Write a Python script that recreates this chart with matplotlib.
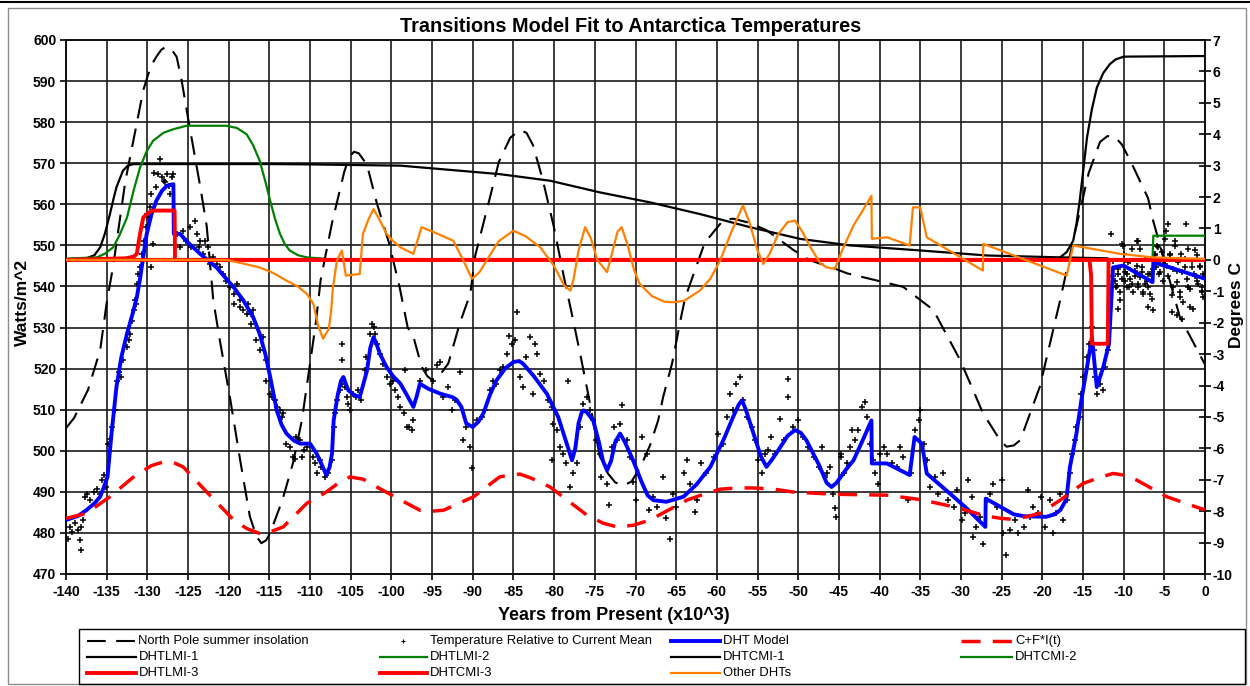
import matplotlib
matplotlib.use('Agg')
import matplotlib.pyplot as plt
from matplotlib.lines import Line2D
from matplotlib.patches import Rectangle

plt.rcParams['font.family'] = ['Liberation Sans', 'DejaVu Sans']
plt.rcParams['axes.unicode_minus'] = False

# ---------------- data ----------------
# North Pole summer insolation (W/m^2, left axis)
ins_t = [-140, -139, -137.3, -135.8, -135.0, -134.2, -132.7, -131.7, -130.5, -129.6, -128.9, -128.3,
         -127.7, -127.0, -126.4, -125.8, -125.0, -123.5, -122.7, -121.9, -121.1, -119.8, -118.6,
         -117.4, -116.6, -116.0, -115.4, -114.9, -113.4, -112.1, -111.0, -109.3, -108.7, -107.3,
         -105.8, -105.2, -104.6, -104.0, -103.0, -101.8, -100.3, -99.0, -98.0, -97.3, -96.3,
         -95.6, -95.0, -94.2, -93.0, -91.6, -90.3, -89.7, -88.1, -86.8, -85.4, -84.2, -83.4,
         -82.6, -81.4, -80.0, -78.8, -77.9, -76.8, -75.7, -74.4, -73.4, -72.5, -71.5, -70.5,
         -69.4, -68.2, -67.2, -66.6, -65.5, -64.4, -63.9, -61.5, -59.2, -58.0, -56.0, -53.9,
         -50.6, -48.6, -45.7, -44.0, -37.1, -33.4, -30.1, -27.3, -25.2, -24.4, -23.5, -22.7,
         -20.3, -17.8, -16.0, -14.3, -12.9, -12.0, -11.1, -10.2, -9.1, -7.0, -6.4, -3.1, 0]
ins_w = [505.5, 508, 514.8, 524.5, 536, 545, 565.7, 575.7, 587.8, 593.5, 595.9, 597.6,
         598.4, 597.6, 595.9, 590.3, 581, 564.3, 554.6, 536.7, 527, 512.4, 497.8,
         484, 479.2, 477.5, 478.2, 480, 488, 497, 507.5, 531, 541.6, 555.5,
         567.9, 571.5, 572.8, 572.4, 569.6, 560.3, 550.6, 539.9, 530, 527.8, 520.5,
         518.2, 517.2, 518, 521.3, 531, 538.3, 547.5, 560, 570.3, 576.2, 578.1, 577.4,
         574.4, 566, 554.2, 542.3, 534, 523.6, 512.6, 498.7, 494.5, 492.3, 491.5, 492.5,
         496, 501.4, 507.5, 513.1, 521.3, 532.5, 537.2, 550.6, 556.2, 556.5, 555.5, 553.7,
         548.9, 546.4, 544.5, 543.2, 539.9, 534.3, 522.1, 509.2, 502.6, 501, 501.3, 502.6,
         515.6, 536.7, 553, 567.6, 575.2, 576.6, 576.5, 574.5, 570.3, 561.5, 556.2, 532.6, 521]

# Temperature relative to current mean (deg C, right axis)
temp_t = [-139.7, -139.5, -139.3, -138.9, -138.5, -138.3, -138.2, -138.1, -137.9, -137.7,
          -137.4, -137.1, -136.6, -136.2, -135.8, -135.6, -135.3, -135.1, -134.8, -134.6,
          -134.4, -134.0, -133.7, -133.5, -133.2, -133.0, -132.5, -132.3, -132.1, -131.9,
          -131.7, -131.4, -131.5, -131.3, -131.1, -130.9, -130.6, -130.4, -130.2, -129.9,
          -129.7, -129.5, -129.2, -128.9, -128.7, -128.4, -128.2, -128.0, -127.8, -127.6,
          -127.4, -127.2, -127.0, -126.8, -129.5, -129.3, -130.1, -126.4, -126.0, -125.6,
          -125.2, -124.8, -124.6, -124.1, -123.9, -123.7, -123.5, -123.1, -122.9, -122.5,
          -122.3, -121.9, -121.5, -121.1, -120.7, -120.3, -119.8, -119.4, -119.0, -118.6,
          -118.2, -117.6, -117.2, -119.4, -118.6, -117.8, -117.0, -117.2, -116.6, -116.2,
          -115.8, -115.4, -115.4, -114.9, -114.7, -114.3, -114.1, -113.7, -113.5, -113.3,
          -112.9, -112.5, -112.1, -111.9, -111.7, -111.2, -111.0, -110.8, -110.4, -109.6,
          -109.4, -109.2, -108.8, -108.6, -108.2, -107.8, -107.3, -107.1, -106.9, -106.7,
          -106.3, -106.1, -106.1, -106.1, -105.7, -105.5, -105.3, -105.1, -104.7, -104.3,
          -104.1, -103.7, -103.3, -103.1, -102.6, -102.4, -102.2, -102.0, -101.8, -101.4,
          -101.0, -100.6, -100.2, -99.8, -99.6, -99.2, -98.9, -98.5, -98.3, -97.9,
          -97.5, -97.3, -98.1, -96.5, -95.7, -94.9, -94.4, -94.0, -93.6, -93.0,
          -92.6, -92.2, -91.6, -91.2, -90.8, -90.4, -90.1, -89.5, -88.9, -88.5,
          -87.9, -87.5, -87.1, -86.7, -86.3, -85.8, -85.6, -85.2, -84.8, -84.6,
          -84.2, -83.8, -83.4, -83.0, -82.6, -82.4, -82.1, -81.7, -81.3, -80.7,
          -80.3, -80.1, -80.3, -79.7, -79.3, -78.9, -78.5, -78.3, -78.1, -77.7,
          -77.2, -76.8, -76.4, -76.0, -75.6, -75.2, -74.8, -74.4, -74.2, -73.5,
          -73.3, -72.9, -72.7, -72.3, -71.9, -71.7, -71.1, -70.7, -70.3, -69.9,
          -69.2, -68.6, -68.4, -67.8, -67.4, -66.6, -66.2, -65.8, -65.4, -65.0,
          -64.1, -63.7, -63.3, -62.7, -62.5, -61.9, -61.3, -60.4, -59.8, -59.2,
          -58.8, -58.4, -58.0, -57.6, -57.2, -56.8, -56.3, -55.7, -55.3, -54.9,
          -54.5, -54.1, -53.7, -53.3, -52.8, -52.2, -51.8, -51.2, -51.2, -50.6,
          -50.0, -49.4, -48.8, -48.1, -47.5, -47.1, -46.7, -46.1, -45.7, -45.5,
          -45.3, -44.7, -46.5, -44.8, -44.4, -44.0, -43.6, -43.4, -43.0, -42.6,
          -42.2, -41.8, -41.6, -41.2, -40.8, -40.6, -40.2, -40.0, -39.5, -39.1,
          -38.5, -37.9, -37.5, -37.1, -36.5, -36.1, -35.7, -35.2, -35.0, -34.6,
          -34.2, -33.8, -33.2, -32.8, -32.2, -31.6, -30.9, -30.5, -29.9, -29.5,
          -29.1, -28.7, -28.5, -28.1, -27.7, -27.3, -26.8, -26.4, -26.0, -25.6,
          -25.0, -24.8, -24.4, -24.0, -23.4, -23.0, -22.3, -21.7, -21.5, -21.1,
          -20.5, -20.1, -19.7, -19.1, -18.7, -18.3, -17.8, -17.4, -17.0, -16.6,
          -16.4, -16.0, -15.8, -15.4, -15.2, -15.0, -14.5, -14.3, -13.9, -13.7,
          -13.5, -13.3, -12.9, -12.5, -12.3, -11.9, -11.5, -11.3, -11.1, -10.9,
          -10.7, -10.5, -10.2, -10.0, -9.8, -9.6, -9.4, -9.2, -9.0, -8.6,
          -8.4, -8.2, -8.0, -7.8, -7.6, -7.4, -7.0, -6.8, -6.4, -6.2,
          -6.0, -5.8, -5.6, -5.2, -4.8, -4.5, -4.3, -3.9, -3.7, -3.5,
          -3.1, -2.9, -2.5, -2.3, -2.1, -1.9, -1.6, -1.4, -1.2, -1.0,
          -0.6, -0.4, -0.2, -0.2,
          -11.28, -10.87, -10.66, -10.46, -10.25, -10.05, -9.84, -9.64, -9.43, -9.23,
          -9.02, -8.82, -8.61, -8.41, -8.20, -8.20, -8.00, -7.79, -7.59, -7.38,
          -7.18, -6.97, -6.77, -6.56, -6.36, -6.15, -5.95, -5.75, -5.54, -5.34,
          -5.13, -4.93, -4.72, -4.52, -4.31, -4.11, -3.90, -3.70, -3.49, -3.29,
          -3.08, -2.88, -2.67, -2.47, -2.26, -2.06, -1.85, -1.65, -1.44, -1.24,
          -1.03, -0.83, -0.62, -0.42, -0.21, -10.66, -6.97, -4.11, -3.49, -2.88]
temp_c = [-8.87, -8.50, -8.66, -8.39, -8.60, -8.92, -9.24, -8.50, -8.28, -7.54,
          -7.44, -7.65, -7.38, -7.28, -7.44, -7.01, -6.85, -7.23, -5.85, -5.69,
          -5.32, -4.79, -3.84, -3.57, -3.73, -3.20, -2.78, -2.56, -2.35, -1.93,
          -1.61, -1.40, -1.29, -0.76, -0.45, -0.24, 0.19, 0.61, 1.04, 1.35,
          1.67, 2.10, 2.78, 2.31, 2.73, 3.21, 2.63, 2.52, 2.47, 2.73,
          2.36, 2.10, 2.63, 2.73, -0.24, 0.51, 1.46, 0.83, 0.40, 0.93,
          0.61, 1.04, 0.40, 1.25, 0.83, 0.40, 0.61, 0.19, 0.61, 0.40,
          -0.13, 0.08, -0.13, -0.24, -0.45, -0.66, -0.87, -1.08, -0.76, -1.29,
          -1.61, -1.40, -1.72, -1.40, -1.51, -1.72, -1.61, -2.03, -2.56, -2.88,
          -2.46, -3.20, -3.84, -4.26, -4.37, -4.47, -4.68, -4.79, -5.00, -4.89,
          -5.85, -5.96, -6.27, -6.33, -5.64, -5.74, -6.27, -6.06, -5.96, -6.27,
          -6.48, -6.80, -6.38, -6.59, -6.91, -6.80, -6.38, -5.32, -4.89, -4.47,
          -4.15, -3.94, -3.20, -2.67, -4.05, -4.37, -4.58, -4.79, -4.26, -4.37,
          -4.15, -4.47, -3.52, -3.09, -2.35, -2.03, -2.14, -2.35, -2.67, -2.99,
          -3.31, -3.73, -3.94, -3.84, -4.15, -4.37, -4.68, -4.89, -3.52, -5.32,
          -5.42, -5.11, -5.32, -3.84, -3.52, -3.84, -3.36, -3.25, -4.37, -4.05,
          -4.79, -4.47, -3.57, -5.74, -5.32, -5.96, -6.64, -5.11, -5.00, -4.79,
          -4.15, -3.84, -3.94, -3.52, -3.41, -2.99, -2.41, -2.67, -2.56, -1.67,
          -3.73, -4.05, -3.09, -2.46, -4.26, -2.67, -2.99, -3.62, -3.84, -4.47,
          -4.68, -5.21, -6.38, -5.42, -5.96, -6.17, -6.48, -3.84, -7.23, -6.80,
          -6.48, -5.32, -4.58, -4.37, -4.79, -5.11, -5.74, -6.17, -6.91, -7.12,
          -7.81, -5.96, -5.32, -5.74, -5.21, -4.63, -5.74, -6.27, -7.07, -7.65,
          -5.64, -6.17, -7.97, -7.54, -7.86, -6.91, -8.23, -8.87, -7.44, -7.86,
          -6.80, -6.38, -7.12, -8.02, -7.65, -6.48, -6.80, -6.27, -5.53, -5.85,
          -5.00, -4.26, -4.79, -3.94, -3.73, -4.47, -5.00, -5.32, -5.74, -6.38,
          -6.80, -6.17, -6.06, -5.64, -6.17, -5.05, -5.74, -3.78, -4.37, -5.32,
          -5.11, -5.64, -5.96, -6.27, -6.59, -5.96, -6.91, -6.59, -7.44, -7.91,
          -8.18, -6.17, -6.80, -6.27, -6.80, -6.48, -5.96, -5.42, -5.74, -5.42,
          -4.68, -4.52, -5.00, -5.85, -6.38, -6.80, -7.12, -6.17, -5.96, -6.17,
          -6.48, -6.59, -5.96, -6.27, -7.65, -6.80, -5.42, -5.11, -4.79, -5.85,
          -6.38, -7.23, -6.91, -7.44, -6.80, -7.65, -7.86, -7.33, -8.28, -8.07,
          -7.01, -7.54, -8.82, -8.50, -8.18, -9.03, -7.65, -7.44, -7.12, -7.86,
          -7.01, -8.71, -9.40, -8.60, -8.28, -8.71, -8.50, -7.33, -8.18, -7.86,
          -8.07, -7.54, -8.50, -7.65, -8.71, -8.07, -7.44, -8.28, -7.65, -6.80,
          -6.17, -5.74, -5.32, -5.00, -4.26, -3.73, -3.09, -2.67, -2.14, -2.88,
          -3.73, -4.26, -3.94, -4.15, -3.41, -2.88, 0.83, -0.02, -0.66, -0.87,
          -0.45, -1.29, 0.51, 0.19, -0.66, -0.45, -0.87, -0.02, -0.76, -0.34,
          0.61, -0.87, -0.55, -0.24, -1.08, -0.76, -0.45, -1.08, -1.61, 0.19,
          -0.24, 0.40, -0.45, -0.02, 0.93, 1.14, 0.19, -0.87, 0.61, -0.34,
          -1.19, 0.19, -0.24, 1.14, -0.87, -1.51, -0.02, -0.45, 0.30, -0.66,
          -0.24, -0.87, -0.45, -1.19,
          -0.50, -0.82, -0.29, -1.03, -0.60, 0.45, -0.39, -0.87, -0.08, -0.60,
          0.35, -1.03, -0.50, -0.18, 0.61, -0.76, 0.35, -0.39, -1.03, 0.03,
          -0.66, -0.87, -0.45, -1.24, -0.29, 0.14, 0.45, -0.08, -0.39, 0.24,
          -0.66, 0.67, -0.18, -0.50, 0.14, -1.13, -0.29, 0.45, -0.71, -0.08,
          -1.03, -0.39, -1.35, 0.03, -0.60, 0.35, -0.92, -0.23, -1.56, -0.50,
          0.14, -0.76, -0.18, -1.03, -0.55, -1.56, -1.50, -1.66, -1.77, -1.88]

# DHT Model (deg C)
dht_t = [-140, -138.5, -137.5, -136.5, -135.8, -135.3, -134.9, -134.4, -133.8, -133.2,
         -132.5, -131.8, -131.3, -130.9, -130.5, -130.1, -129.5, -128.9, -128.2, -127.6,
         -126.8, -126.75, -126.0, -125.0, -123.5, -121.5, -119.4, -118.2, -117.0, -116.2,
         -115.5, -114.9, -114.1, -113.5, -112.9, -112.0, -111.2, -110.0, -109.2, -108.6,
         -108.0, -107.6, -107.3, -107.1, -106.6, -106.2, -105.9, -105.6, -105.3, -104.6,
         -103.9, -103.5, -103.0, -102.6, -102.2, -101.8, -101.4, -100.6, -99.8, -98.9,
         -98.0, -97.3, -96.9, -96.5, -95.5, -94.0, -92.5, -92.0, -91.4, -90.8,
         -90.0, -89.3, -88.7, -87.9, -87.1, -86.0, -85.0, -84.3, -83.8, -82.5,
         -80.9, -79.5, -78.4, -77.8, -77.4, -77.0, -76.6, -76.4, -76.0, -75.2,
         -74.5, -74.0, -73.5, -73.0, -72.5, -71.9, -71.3, -70.3, -69.2, -68.5,
         -67.8, -66.2, -64.1, -62.5, -60.8, -59.2, -58.0, -57.3, -56.9, -56.4,
         -55.5, -54.6, -53.9, -53.2, -52.2, -51.3, -50.4, -49.7, -49.0, -47.5,
         -46.5, -45.9, -45.3, -44.2, -43.2, -42.0, -41.0, -40.95, -39.1, -36.3,
         -35.7, -34.8, -34.2, -30.9, -29.3, -27.0, -26.95, -24.8, -23.5, -22.3,
         -19.5, -18.5, -17.8, -17.2, -17.0, -16.6, -15.8, -15.2, -14.5, -13.9,
         -13.3, -12.5, -11.8, -11.3, -10.0, -6.45, -6.35, -4.3, 0]
dht_c = [-8.28, -8.15, -7.97, -7.75, -7.54, -7.20, -6.91, -5.52, -4.05, -3.10,
         -2.35, -1.70, -1.20, -0.60, 0.10, 0.80, 1.45, 1.88, 2.20, 2.36,
         2.41, 0.83, 0.83, 0.55, 0.19, -0.24, -0.87, -1.29, -1.82, -2.35,
         -3.00, -3.73, -4.79, -5.25, -5.53, -5.75, -5.85, -5.85, -6.16, -6.50,
         -6.85, -6.60, -6.16, -5.11, -4.30, -3.85, -3.73, -3.95, -4.15, -4.30,
         -4.37, -4.00, -3.52, -2.80, -2.46, -2.70, -3.00, -3.41, -3.70, -3.94,
         -4.35, -4.68, -4.35, -3.94, -4.10, -4.26, -4.37, -4.45, -4.68, -5.21,
         -5.32, -5.15, -4.89, -4.30, -3.84, -3.45, -3.25, -3.22, -3.31, -3.70,
         -4.26, -5.00, -5.90, -6.38, -6.00, -5.20, -4.85, -4.79, -4.85, -5.11,
         -5.80, -6.40, -6.70, -6.40, -5.80, -5.53, -5.80, -6.38, -7.10, -7.50,
         -7.65, -7.70, -7.54, -7.15, -6.59, -5.74, -5.00, -4.60, -4.47, -4.80,
         -5.53, -6.25, -6.59, -6.35, -5.96, -5.60, -5.42, -5.50, -5.74, -6.50,
         -7.10, -7.23, -7.10, -6.70, -6.38, -5.70, -5.11, -6.48, -6.48, -6.85,
         -5.64, -5.85, -6.80, -7.54, -7.91, -8.50, -7.60, -7.91, -8.10, -8.16,
         -8.18, -8.10, -7.97, -7.70, -7.54, -6.59, -5.53, -4.47, -3.41, -2.46,
         -4.05, -3.41, -2.67, -0.24, -0.18, -0.71, -0.08, -0.24, -0.60]

# C+F*I(t) (deg C)
cfi_t = [-140, -137.5, -134.6, -131.7, -129.5, -128.0, -126.8, -125.6, -122.7, -119.4,
         -117.8, -116.2, -114.8, -113.3, -110.4, -108.0, -106.5, -105.1, -103.5, -101.8,
         -98.1, -96.5, -95.0, -93.6, -89.9, -86.7, -85.5, -84.2, -82.8, -80.5,
         -76.0, -74.0, -72.3, -70.3, -68.2, -63.7, -61.5, -59.6, -57.5, -55.5,
         -53.0, -50.6, -45.7, -39.1, -35.0, -30.9, -26.8, -25.0, -23.6, -22.0,
         -20.3, -17.8, -15.0, -13.0, -11.3, -10.0, -8.4, -4.7, -0.6, 0]
cfi_c = [-8.23, -8.07, -7.54, -6.91, -6.55, -6.43, -6.45, -6.59, -7.39, -8.28,
         -8.55, -8.71, -8.65, -8.50, -7.75, -7.39, -7.10, -6.91, -6.98, -7.23,
         -7.75, -7.97, -8.00, -7.97, -7.54, -6.91, -6.85, -6.82, -6.95, -7.23,
         -8.12, -8.38, -8.50, -8.45, -8.28, -7.65, -7.45, -7.30, -7.26, -7.26,
         -7.30, -7.39, -7.46, -7.49, -7.63, -7.86, -8.16, -8.23, -8.26, -8.18,
         -8.07, -7.65, -7.12, -6.93, -6.80, -6.85, -7.01, -7.54, -7.91, -7.95]

# DHTLMI-1 (deg C)
lmi1_t = [-140, -137.5, -136.5, -135.8, -135.2, -134.6, -134.2, -133.8, -133.0, -132.4,
          -131.7, -115.0, -110.0, -104.6, -98.9, -86.7, -80.5, -74.4, -68.2, -62.1,
          -55.9, -49.8, -43.6, -35.0, -26.8, -17.8, -12.0]
lmi1_c = [0.02, 0.05, 0.15, 0.40, 0.85, 1.46, 1.90, 2.31, 2.84, 3.00,
          3.05, 3.05, 3.04, 3.02, 3.00, 2.73, 2.52, 2.15, 1.83, 1.46,
          1.04, 0.67, 0.46, 0.30, 0.14, 0.08, 0.05]

# DHTLMI-2 (deg C)
lmi2_t = [-140, -136.2, -135.2, -134.2, -133.4, -132.5, -131.7, -130.9, -130.1, -129.3,
          -128.0, -126.8, -125.2, -120.3, -119.0, -117.8, -117.0, -116.2, -115.5, -114.9,
          -114.3, -113.7, -113.1, -112.5, -111.5, -110.4, -108.4]
lmi2_c = [0.04, 0.08, 0.20, 0.40, 0.80, 1.35, 2.20, 2.94, 3.45, 3.79,
          4.05, 4.16, 4.27, 4.27, 4.20, 4.00, 3.65, 3.16, 2.50, 1.88,
          1.30, 0.83, 0.50, 0.30, 0.15, 0.08, 0.04]

# DHTCMI-1 (deg C)
cmi1_t = [-140, -18.5, -17.8, -17.0, -16.2, -15.8, -15.4, -14.9, -14.5, -13.9,
          -13.3, -12.5, -11.7, -11.0, -10.0, 0]
cmi1_c = [0.0, 0.0, 0.08, 0.25, 0.61, 1.15, 1.88, 3.00, 3.90, 4.80,
          5.48, 5.95, 6.23, 6.38, 6.47, 6.49]

# DHTCMI-2 (deg C)
cmi2_t = [-140, -6.45, -6.35, 0]
cmi2_c = [0.0, 0.0, 0.77, 0.77]

# DHTLMI-3 (deg C)
lmi3_t = [-140, -132.7, -131.7, -131.3, -130.9, -130.5, -129.9, -129.3, -126.65, -126.6, 0]
lmi3_c = [0.0, 0.05, 0.10, 0.19, 0.83, 1.35, 1.50, 1.57, 1.57, 0.0, 0.0]

# DHTCMI-3 (deg C)
cmi3_t = [-140, -14.2, -14.0, -13.9, -11.95, -11.85, 0]
cmi3_c = [0.0, 0.0, -0.5, -2.67, -2.67, 0.0, 0.0]

# Other DHTs (deg C)
oth_t = [-140, -120.3, -118.5, -116.2, -114.5, -112.9, -111.5, -110.4, -109.6, -109.0,
         -108.4, -107.7, -107.4, -107.2, -106.7, -106.1, -105.6, -103.9, -103.5, -102.8,
         -102.2, -101.5, -100.6, -99.8, -98.9, -97.3, -96.3, -94.5, -92.4, -91.2,
         -90.1, -89.2, -88.3, -86.8, -85.0, -83.5, -81.7, -80.0, -78.8, -78.0,
         -77.6, -77.0, -76.2, -75.5, -74.7, -73.5, -72.8, -72.2, -71.7, -71.0,
         -70.2, -69.5, -68.0, -66.5, -65.4, -64.0, -62.1, -60.8, -59.6, -58.2,
         -56.8, -56.0, -55.0, -54.3, -53.5, -52.5, -51.3, -50.4, -49.5, -48.5,
         -47.3, -46.5, -45.5, -44.6, -43.2, -42.0, -41.0, -40.95, -39.1, -36.3,
         -35.9, -35.0, -34.2, -27.3, -27.25, -17.0, -16.2, -10.4, -6.4, 0]
oth_c = [0.0, 0.0, -0.10, -0.24, -0.42, -0.66, -0.85, -1.08, -1.40, -2.10,
         -2.51, -2.20, -1.60, -0.90, -0.02, 0.30, -0.50, -0.45, 0.83, 1.30,
         1.62, 1.30, 0.83, 0.60, 0.40, 0.19, 1.04, 0.85, 0.61, 0.00,
         -0.60, -0.40, -0.02, 0.60, 0.93, 0.75, 0.40, -0.20, -0.80, -0.98,
         -0.60, 0.30, 1.04, 0.70, 0.00, -0.39, 0.30, 0.90, 1.04, 0.50,
         -0.30, -0.76, -1.15, -1.33, -1.35, -1.30, -0.98, -0.60, -0.02, 0.90,
         1.73, 1.20, 0.30, -0.13, 0.20, 0.80, 1.20, 1.25, 0.90, 0.40,
         -0.10, -0.24, -0.29, 0.30, 1.10, 1.60, 2.04, 0.67, 0.72, 0.46,
         1.67, 1.67, 0.72, -0.34, 0.51, -0.50, 0.46, 0.19, 0.08, 0.03]

x_ticks = list(range(-140, 1, 5))
left_ticks = list(range(470, 601, 10))
right_ticks = list(range(-10, 8))

# ---------------- figure ----------------
W, H = 1250, 686
fig = plt.figure(figsize=(W / 100, H / 100), dpi=100)


def fx(x):
    return x / W


def fy(y):
    return 1 - y / H


ax = fig.add_axes([fx(66), fy(574), (1205 - 66) / W, (574 - 40) / H])
ax.set_xlim(-140, 0)
ax.set_ylim(470, 600)
ax.set_xticks(x_ticks)
ax.set_yticks(left_ticks)
ax.grid(True, color='#1a1a1a', lw=1.2)
ax.set_axisbelow(True)
for s in ax.spines.values():
    s.set_linewidth(1.3)
    s.set_color('#111111')
ax.tick_params(axis='x', direction='out', length=4, width=1.2, pad=4, labelsize=10)
ax.tick_params(axis='y', direction='out', length=4, width=1.2, pad=3, labelsize=10)
for lab in ax.get_xticklabels() + ax.get_yticklabels():
    lab.set_fontweight('bold')

INS_STYLE = dict(color='black', lw=1.5, dashes=(9, 5))
ax.plot(ins_t, ins_w, zorder=2, **INS_STYLE)

ax2 = ax.twinx()
ax2.set_ylim(-10, 7)
ax2.set_yticks(right_ticks)
ax2.tick_params(axis='y', direction='inout', length=8, width=1.2, pad=1.5, labelsize=10)
for lab in ax2.get_yticklabels():
    lab.set_fontweight('bold')
for s in ax2.spines.values():
    s.set_linewidth(1.3)
    s.set_color('#111111')

ax2.plot(temp_t, temp_c, linestyle='none', marker='+', ms=4, mew=1.1, color='black', zorder=2)
BLUE = dict(color='#0000ff', lw=2.8, solid_joinstyle='round')
ax2.plot(dht_t, dht_c, zorder=3, **BLUE)
CFI = dict(color='#ff0000', lw=2.5, dashes=(5.5, 3.5))
ax2.plot(cfi_t, cfi_c, zorder=4, **CFI)
BLK = dict(color='black', lw=1.6)
GRN = dict(color='#008000', lw=1.6)
RED = dict(color='#ff0000', lw=2.8)
ORG = dict(color='#ff8000', lw=1.6)
ax2.plot(lmi1_t, lmi1_c, zorder=5, **BLK)
ax2.plot(lmi2_t, lmi2_c, zorder=5, **GRN)
ax2.plot(cmi1_t, cmi1_c, zorder=5, **BLK)
ax2.plot(cmi2_t, cmi2_c, zorder=5, **GRN)
ax2.plot(lmi3_t, lmi3_c, zorder=6, **RED)
ax2.plot(cmi3_t, cmi3_c, zorder=6, **RED)
ax2.plot(oth_t, oth_c, zorder=7, **ORG)

# ---------------- texts ----------------
fig.text(fx(631), fy(26), 'Transitions Model Fit to Antarctica Temperatures',
         ha='center', va='center', fontsize=14.3, fontweight='bold')
fig.text(fx(614), fy(615), 'Years from Present (x10^3)', ha='center', va='center',
         fontsize=13, fontweight='bold')
fig.text(fx(22), fy(302), 'Watts/m^2', ha='center', va='center', rotation=90,
         fontsize=12.5, fontweight='bold')
fig.text(fx(1237), fy(305), 'Degrees C', ha='center', va='center', rotation=90,
         fontsize=12.5, fontweight='bold')

# ---------------- frame ----------------
fig.add_artist(Rectangle((fx(8), fy(684)), (1246 - 8) / W, (684 - 8) / H,
                         transform=fig.transFigure, fill=False, edgecolor='#8c8c8c', lw=1.0))
fig.add_artist(Line2D([0, 1], [fy(2), fy(2)], transform=fig.transFigure, color='black', lw=1.5))

# ---------------- legend ----------------
fig.add_artist(Rectangle((fx(79), fy(684)), (1245 - 79) / W, (684 - 629) / H,
                         transform=fig.transFigure, fill=False, edgecolor='black', lw=1.0))
rows = [641, 657, 673]
entries = [
    (0, 0, 87, 135, 'line', INS_STYLE, 'North Pole summer insolation'),
    (0, 1, 380, 427, 'marker', None, 'Temperature Relative to Current Mean'),
    (0, 2, 671, 720, 'line', BLUE, 'DHT Model'),
    (0, 3, 961, 1012, 'line', CFI, 'C+F*I(t)'),
    (1, 0, 87, 136, 'line', BLK, 'DHTLMI-1'),
    (1, 1, 380, 427, 'line', GRN, 'DHTLMI-2'),
    (1, 2, 671, 720, 'line', BLK, 'DHTCMI-1'),
    (1, 3, 961, 1012, 'line', GRN, 'DHTCMI-2'),
    (2, 0, 87, 136, 'line', RED, 'DHTLMI-3'),
    (2, 1, 380, 427, 'line', RED, 'DHTCMI-3'),
    (2, 2, 671, 720, 'line', ORG, 'Other DHTs'),
]
for r, c, x0, x1, kind, style, label in entries:
    yy = fy(rows[r])
    if kind == 'line':
        fig.add_artist(Line2D([fx(x0), fx(x1)], [yy, yy], transform=fig.transFigure, **style))
    else:
        fig.add_artist(Line2D([fx((x0 + x1) / 2)], [yy], transform=fig.transFigure,
                              linestyle='none', marker='+', ms=3, mew=0.8, color='black'))
    fig.text(fx(x1 + 3), yy, label, ha='left', va='center', fontsize=9.4)

fig.savefig('out.png', dpi=100)
